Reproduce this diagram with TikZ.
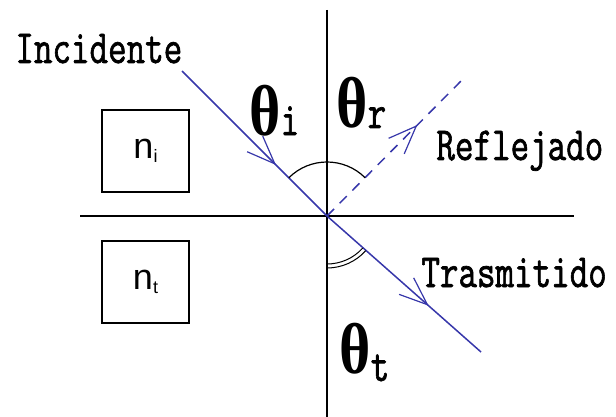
\documentclass[tikz,border=0pt]{standalone}
\usepackage{fontspec}
\usepackage{graphicx}
\usepackage{tikz}
\usetikzlibrary{arrows.meta, decorations.markings}
\newfontfamily\lblfont{Latin Modern Mono}[FakeBold=1.6]
\newfontfamily\thfont{Liberation Serif}
\newfontfamily\nfont{Liberation Sans}
\definecolor{raycol}{RGB}{55, 55, 170}

\tikzset{
	ray/.style={draw=raycol, line width=0.75pt},
	tipmark/.style={postaction={decorate}, decoration={markings,
		mark=at position #1 with {\arrow[solid]{Straight Barb[length=14pt, width=11pt, line width=0.6pt]}}}},
	axis/.style={draw=black, line width=1pt},
	medium/.style={draw=black, line width=1.1pt, minimum width=43.5pt, minimum height=41pt, inner sep=0pt},
	lbl/.style={inner sep=0pt, anchor=base west, font=\lblfont\fontsize{18}{18}\selectfont},
}

\newcommand{\tall}[1]{\scalebox{1}[1.32]{#1}}
\newcommand{\thsym}[1]{\scalebox{1}[1.2]{\thfont\bfseries\fontsize{30}{30}\selectfont θ}\tall{#1}}

\begin{document}
\begin{tikzpicture}[x=0.5pt, y=-0.5pt]
	\useasboundingbox (0,0) rectangle (616,417);
	
	% interface and normal
	\coordinate (O) at (327,216);
	\coordinate (sl) at (80,216);
	\coordinate (sr) at (574,216);
	\coordinate (nu) at (327,10);
	\coordinate (nd) at (327,417);
	\draw[axis] (sl) -- (sr);
	\draw[axis] (nu) -- (nd);
	
	% rays
	\coordinate (inc) at (182,71);
	\coordinate (refl) at (466,76);
	\coordinate (tra) at (481,352);
	\draw[ray, tipmark=0.65] (inc) -- (O);
	\draw[ray, dashed, dash pattern=on 5pt off 4pt, tipmark=0.65] (O) -- (refl);
	\draw[ray, tipmark=0.66] (O) -- (tra);
	
	% angles
	\draw[black, line width=0.6pt] (O) ++(225:54) arc[start angle=225, end angle=315, radius=54];
	\draw[black, line width=0.5pt] (O) ++(90:48) arc[start angle=90, end angle=42, radius=48];
	\draw[black, line width=0.5pt] (O) ++(90:52) arc[start angle=90, end angle=42, radius=52];
	
	% media
	\node[medium] (ni) at (145.5,151) {\nfont\fontsize{18}{18}\selectfont n\raisebox{-2pt}{\fontsize{9}{9}\selectfont i}};
	\node[medium] (nt) at (145.5,282) {\nfont\fontsize{18}{18}\selectfont n\raisebox{-2pt}{\fontsize{9}{9}\selectfont t}};
	
	% labels
	\node[lbl] (tinc) at (15,63) {\tall{Incidente}};
	\node[lbl] (trefl) at (436,160) {\tall{Reflejado}};
	\node[lbl] (ttra) at (421,287) {\tall{Trasmitido}};
	\node[lbl] (thi) at (249,135) {\thsym{i}};
	\node[lbl] (thr) at (336,128) {\thsym{r}};
	\node[lbl] (tht) at (339,373) {\thsym{\raisebox{-3pt}{t}}};
	
\end{tikzpicture}
\end{document}
